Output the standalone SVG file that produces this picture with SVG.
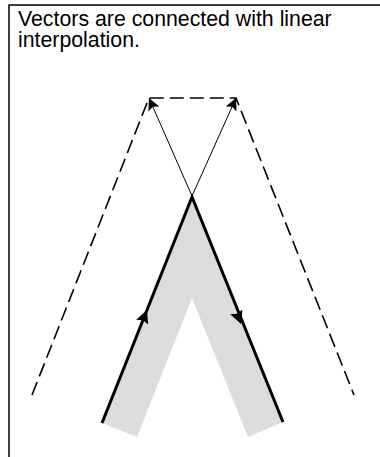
<svg xmlns="http://www.w3.org/2000/svg" width="380" height="457" viewBox="0 0 380 457">
<defs>
<style>
.frame{fill:none;stroke:#000;stroke-width:1.5}
.band{fill:#dcdcdc;stroke:none}
.main{fill:none;stroke:#000;stroke-width:3;stroke-linejoin:miter}
.dash{fill:none;stroke:#000;stroke-width:1.6;stroke-dasharray:14 6}
.thin{fill:none;stroke:#000;stroke-width:1}
.label{font-family:"Liberation Sans",Arial,sans-serif;font-size:21.3px;fill:#000}
</style>
<marker id="ah" viewBox="0 0 10 10" refX="10" refY="5" markerWidth="13" markerHeight="12" markerUnits="userSpaceOnUse" orient="auto">
<path d="M0,0 L10,5 L0,10 L2,5 Z" fill="#000"/>
</marker>
<marker id="mh" viewBox="0 0 10 10" refX="10" refY="5" markerWidth="18" markerHeight="13" markerUnits="userSpaceOnUse" orient="auto">
<path d="M0,0 L10,5 L0,10 L1.5,5 Z" fill="#000"/>
</marker>
</defs>
<rect width="380" height="457" fill="#fff"/>
<g id="frame">
<path class="frame" d="M9,457 L9,5 L380,5"/>
</g>
<g id="caption">
<text class="label" x="18" y="26">Vectors are connected with linear</text>
<text class="label" x="18" y="47">interpolation.</text>
</g>
<g id="band">
<polygon class="band" points="102,423 137,437 192,298 248,437 283,422 192,197"/>
</g>
<g id="connectors">
<path class="dash" d="M32,395 L149,98 L236,98 L354,395"/>
<line class="thin" x1="192" y1="196" x2="149" y2="98" marker-end="url(#ah)"/>
<line class="thin" x1="192" y1="196" x2="236" y2="98" marker-end="url(#ah)"/>
<path class="main" d="M102,423 L192,197 L283,422"/>
<line x1="102" y1="423" x2="147" y2="310" stroke="none" marker-end="url(#mh)"/>
<line x1="192" y1="197" x2="241" y2="324" stroke="none" marker-end="url(#mh)"/>
</g>
</svg>
